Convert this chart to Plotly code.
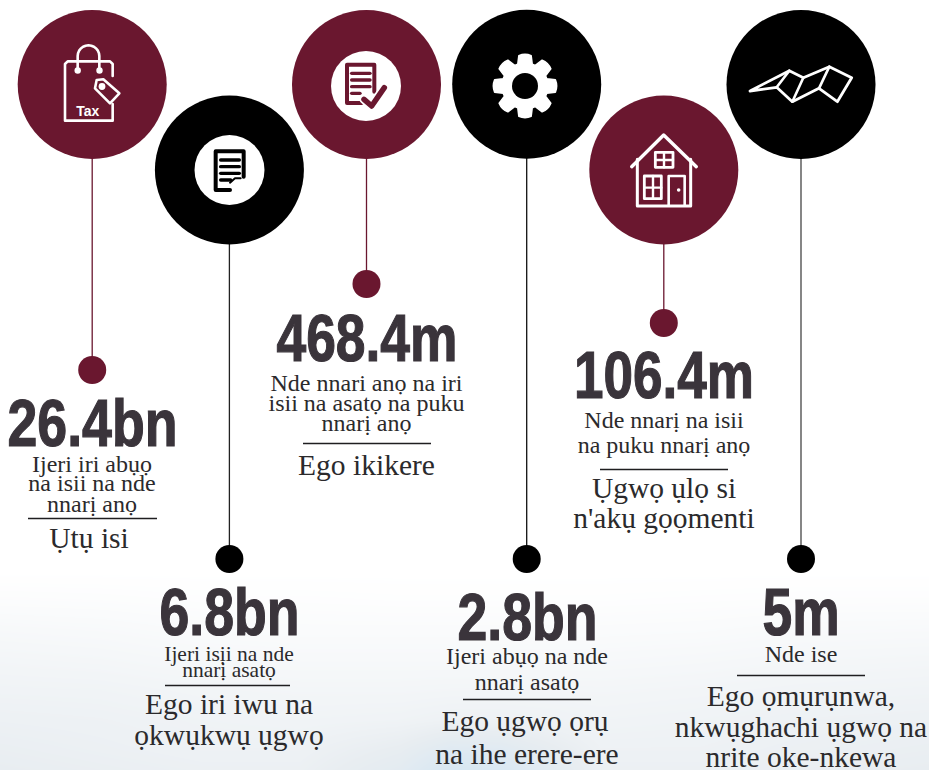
import json
import math
import plotly.graph_objects as go

MAROON = "#6a172f"
BLACK = "#000000"
INK = "#2b2a2c"
VALUE_INK = "#3a343b"

# Main circles / connectors / end dots
circle_x = [92.2, 229.4, 366.5, 526.7, 663.8, 801]
circle_y = [84.5, 170, 84.5, 84.3, 170, 84.5]
dot_y = [370, 559, 284, 559, 323, 559]
item_color = [MAROON, BLACK, MAROON, BLACK, MAROON, BLACK]
line_color = [MAROON, "#222222", MAROON, "#111111", MAROON, "#444444"]
disc_x = [229.5, 366]
disc_y = [170, 86]

# Big figures
value_text = ["26.4bn", "6.8bn", "468.4m", "2.8bn", "106.4m", "5m"]
value_x = [92.5, 229.5, 367, 527.5, 664, 801]
value_y = [429.5, 618.5, 344.5, 623.5, 381.5, 618.5]
value_width = [170, 140, 181, 140, 180, 77]

# Small lines: text, x, y, size
small_text = ["Ijeri iri abụọ", "na isii na nde", "nnarị anọ",
              "Ijeri isịi na nde", "nnarị asatọ",
              "Nde nnari anọ na iri", "isii na asatọ na puku", "nnarị anọ",
              "Ijeri abụọ na nde", "nnarị asatọ",
              "Nde nnarị na isii", "na puku nnarị anọ",
              "Nde ise"]
small_x = [92, 92, 92, 229, 229, 366.5, 366.5, 366.5, 527, 527, 664, 664, 801]
small_y = [466, 485, 506, 656, 672, 385, 405, 425, 658, 684, 422, 447, 656]
small_size = [24, 24, 24, 21.5, 21.5, 24, 24, 24, 24, 24, 24, 24, 24]

# Category labels
label_text = ["Ụtụ isi", "Ego iri iwu na", "ọkwụkwụ ụgwọ", "Ego ikikere",
              "Ego ụgwọ ọrụ", "na ihe erere-ere", "Ụgwọ ụlọ si", "n'akụ gọọmenti",
              "Ego ọmụrụnwa,", "nkwụghachi ụgwọ na", "nrite oke-nkewa"]
label_x = [89, 229, 229, 366.5, 525, 527, 664, 664, 801, 801, 801]
label_y = [541, 707, 738, 468, 724, 757, 491, 521, 699, 730, 760]

# Rules under the small lines
rule_x0 = [28, 165, 303, 463, 600, 737]
rule_x1 = [157, 290, 431, 591, 728, 865]
rule_y = [518.5, 685.5, 443.5, 699.5, 469.5, 675.5]

# Pale backdrop fading in at the foot of the page
bg_x = [0, 100, 200, 300, 400, 450, 500, 600, 700, 800, 929]
bg_y = [570, 600, 630, 660, 690, 720, 750, 770]
bg_z = [
    [0.00, 0.00, 0.00, 0.00, 0.00, 0.00, 0.00, 0.00, 0.00, 0.00, 0.00],
    [0.08, 0.07, 0.05, 0.05, 0.04, 0.04, 0.04, 0.04, 0.05, 0.06, 0.06],
    [0.18, 0.16, 0.12, 0.11, 0.11, 0.11, 0.11, 0.11, 0.12, 0.15, 0.16],
    [0.26, 0.24, 0.20, 0.18, 0.18, 0.18, 0.18, 0.18, 0.20, 0.23, 0.25],
    [0.33, 0.32, 0.28, 0.26, 0.26, 0.27, 0.27, 0.26, 0.28, 0.31, 0.33],
    [0.40, 0.38, 0.34, 0.32, 0.34, 0.38, 0.38, 0.32, 0.34, 0.38, 0.40],
    [0.46, 0.42, 0.38, 0.38, 0.52, 0.70, 0.68, 0.38, 0.38, 0.42, 0.46],
    [0.50, 0.46, 0.42, 0.42, 0.62, 0.90, 0.85, 0.42, 0.42, 0.46, 0.50],
]


def path(points, ox, oy, closed=False):
    """Icon outline traced in crop pixels (3x), placed at crop origin (ox, oy)."""
    d = []
    for i, (px, py) in enumerate(points):
        d.append(("M" if i == 0 else "L") + f"{ox + px / 3:.2f},{oy + py / 3:.2f}")
    return " ".join(d) + (" Z" if closed else "")


def stroke(points, ox, oy, color, width, closed=False, fill=None):
    return dict(type="path", xref="x", yref="y", layer="above", path=path(points, ox, oy, closed),
                line=dict(color=color, width=width),
                fillcolor=fill if fill else "rgba(0,0,0,0)")


def blob(cx, cy, r, color):
    return dict(type="circle", xref="x", yref="y", layer="above",
                x0=cx - r, x1=cx + r, y0=cy - r, y1=cy + r,
                fillcolor=color, line=dict(width=0))


shapes = []
W = "#ffffff"

# --- Tax bag
shapes.append(stroke([(338, 228), (338, 192), (330, 184), (203, 184), (195, 192), (195, 362), (338, 362), (338, 312)], 0, 0, W, 2.6))
handle = [(233, 212), (233, 170)]
for k in range(0, 13):
    a = math.pi - math.pi * k / 12
    handle.append((265.5 + 32.5 * math.cos(a), 168 - 32 * math.sin(a)))
handle.append((298, 212))
shapes.append(stroke(handle, 0, 0, W, 2.6))
shapes.append(blob(77.7, 70.5, 3.2, W))
shapes.append(blob(99.5, 70.5, 3.2, W))
shapes.append(stroke([(290, 240), (310, 238), (358, 280), (330, 310), (285, 265)], 0, 0, W, 2.6, True, MAROON))
shapes.append(blob(102, 86.5, 3.4, W))

# --- Document on white disc
shapes.append(stroke([(731, 530), (731, 454), (647, 454), (647, 570), (690, 570)], 0, 0, BLACK, 4))
for py, x1 in [(480, 718), (500, 718), (520, 718), (540, 692)]:
    shapes.append(stroke([(662, py), (x1, py)], 0, 0, BLACK, 3.4))
shapes.append(stroke([(690, 548), (705, 535), (722, 535)], 0, 0, BLACK, 2))

# --- Document with tick
shapes.append(stroke([(253, 275), (253, 194), (171, 194), (171, 309), (215, 309)], 290, 0, MAROON, 4))
for py, x1 in [(220, 240), (240, 240), (260, 240), (280, 210)]:
    shapes.append(stroke([(185, py), (x1, py)], 290, 0, MAROON, 3.4))
shapes.append(stroke([(222, 298), (245, 318), (283, 263)], 290, 0, W, 9))
shapes.append(stroke([(222, 298), (245, 318), (283, 263)], 290, 0, MAROON, 5.5))

# --- Gear
gx, gy = 525, 86
gd = []
for t in range(8):
    a = t * math.pi / 4
    c = [(23, a - 0.32), (31, a - 0.2), (33, a), (31, a + 0.2), (23, a + 0.32)]
    for j, (r, b) in enumerate(c):
        xx, yy = gx + r * math.cos(b), gy + r * math.sin(b)
        if j == 0:
            gd.append(("M" if t == 0 else "L") + f"{xx:.2f},{yy:.2f}")
        elif j == 2:
            gd.append(f"Q{xx:.2f},{yy:.2f}")
        elif j == 3:
            gd.append(f"{xx:.2f},{yy:.2f}")
        else:
            gd.append(f"L{xx:.2f},{yy:.2f}")
shapes.append(dict(type="path", xref="x", yref="y", layer="above", path=" ".join(gd) + " Z",
                   fillcolor=W, line=dict(color=W, width=1.5)))
shapes.append(blob(gx, gy, 13, BLACK))

# --- House
H = 580
shapes.append(stroke([(155, 500), (251, 405), (349, 500)], H, 0, W, 3.4))
shapes.append(stroke([(172, 478), (172, 618), (332, 618), (332, 478)], H, 0, W, 3))
shapes.append(stroke([(226, 457), (279, 457), (279, 502), (226, 502)], H, 0, W, 2.8, True))
shapes.append(stroke([(252, 457), (252, 502)], H, 0, W, 2.4))
shapes.append(stroke([(226, 480), (279, 480)], H, 0, W, 2.4))
shapes.append(stroke([(193, 528), (244, 528), (244, 596), (193, 596)], H, 0, W, 2.8, True))
shapes.append(stroke([(219, 528), (219, 596)], H, 0, W, 2.4))
shapes.append(stroke([(193, 563), (244, 563)], H, 0, W, 2.4))
shapes.append(stroke([(266, 616), (266, 528), (314, 528), (314, 616)], H, 0, W, 2.6))
shapes.append(blob(H + 296 / 3, 570 / 3, 1.8, W))

# --- Folded map
shapes.append(stroke([(510, 273), (628, 212), (670, 233), (748, 200), (815, 233), (772, 305),
                      (717, 265), (637, 305), (590, 262)], H, 0, W, 2.8, True))
shapes.append(stroke([(628, 212), (590, 262)], H, 0, W, 2.6))
shapes.append(stroke([(670, 233), (637, 305)], H, 0, W, 2.6))
shapes.append(stroke([(748, 200), (717, 265)], H, 0, W, 2.6))

fig = go.Figure()

fig.add_trace(go.Heatmap(x=bg_x, y=bg_y, z=bg_z, zmin=0, zmax=1, zsmooth="best", showscale=False,
                         colorscale=[[0, "#ffffff"], [0.5, "#e8edf1"], [1, "#d2e5f3"]], hoverinfo="skip"))

for x, cy, dy, c in zip(circle_x, circle_y, dot_y, line_color):
    fig.add_trace(go.Scatter(x=[x, x], y=[cy, dy], mode="lines", line=dict(color=c, width=1.3), hoverinfo="skip"))

fig.add_trace(go.Scatter(x=circle_x, y=circle_y, mode="markers", hoverinfo="skip",
                         marker=dict(size=149, color=item_color, line=dict(width=0))))
fig.add_trace(go.Scatter(x=circle_x, y=dot_y, mode="markers", hoverinfo="skip",
                         marker=dict(size=28, color=item_color, line=dict(width=0))))
fig.add_trace(go.Scatter(x=disc_x, y=disc_y, mode="markers", hoverinfo="skip",
                         marker=dict(size=70, color="#ffffff", line=dict(width=0))))

rx, ry = [], []
for a, b, y in zip(rule_x0, rule_x1, rule_y):
    rx += [a, b, None]
    ry += [y, y, None]
fig.add_trace(go.Scatter(x=rx, y=ry, mode="lines", line=dict(color="#1f1e20", width=1.3), hoverinfo="skip"))

fig.add_trace(go.Scatter(x=value_x, y=value_y, text=value_text, mode="text", textposition="middle center", hoverinfo="skip",
                         textfont=dict(family="Liberation Sans", size=66, color=VALUE_INK, weight=700)))
fig.add_trace(go.Scatter(x=small_x, y=small_y, text=small_text, mode="text", textposition="middle center", hoverinfo="skip",
                         textfont=dict(family="Liberation Serif", size=small_size, color=INK)))
fig.add_trace(go.Scatter(x=label_x, y=label_y, text=label_text, mode="text", textposition="middle center", hoverinfo="skip",
                         textfont=dict(family="Liberation Serif", size=29.5, color=INK)))
fig.add_trace(go.Scatter(x=[87.7], y=[111.7], text=["Tax"], mode="text", textposition="middle center", hoverinfo="skip",
                         textfont=dict(family="Liberation Sans", size=15.5, color="#ffffff", weight=700)))

fig.update_layout(width=929, height=770, margin=dict(l=0, r=0, t=0, b=0), showlegend=False,
                  paper_bgcolor="#ffffff", plot_bgcolor="#ffffff", shapes=shapes,
                  xaxis=dict(range=[0, 929], visible=False, fixedrange=True),
                  yaxis=dict(range=[770, 0], visible=False, fixedrange=True))

# No condensed face is installed, so the big figures are squeezed to the reference widths.
squeeze = dict(zip(value_text, value_width))
squeeze["Tax"] = 23
post = (
    "document.body.style.margin='0';document.body.style.overflow='hidden';"
    "var w=" + json.dumps(squeeze) + ";"
    "function sq(){document.querySelectorAll('.textpoint text').forEach(function(t){"
    "var k=t.textContent;if(w[k]){t.setAttribute('textLength',w[k]);"
    "t.setAttribute('lengthAdjust','spacingAndGlyphs');"
    "if(k!=='Tax'){t.style.stroke='#3a343b';t.style.strokeWidth='1.2px';}}});"
    "document.querySelectorAll('.shapelayer path').forEach(function(p){"
    "p.style.strokeLinejoin='round';p.style.strokeLinecap='round';});}"
    "sq();setTimeout(sq,30);setTimeout(sq,200);"
)
fig.write_html("out.html", config=dict(displayModeBar=False), post_script=post)
